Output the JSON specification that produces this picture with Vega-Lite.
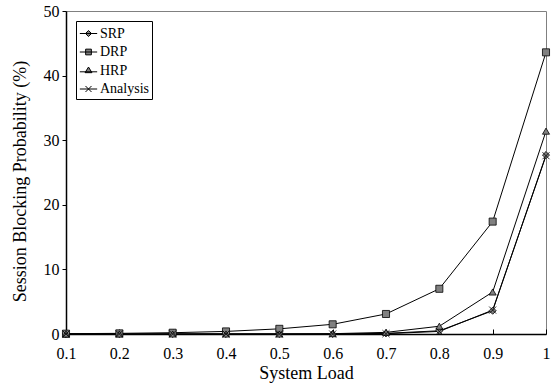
{
  "$schema": "https://vega.github.io/schema/vega-lite/v6.json",
  "width": 480,
  "height": 323,
  "autosize": "none",
  "padding": {"left": 66, "top": 11, "right": 7, "bottom": 57},
  "config": {
    "view": {"stroke": "#808080", "strokeWidth": 1},
    "font": "Liberation Serif",
    "axis": {"labelFont": "Liberation Serif", "titleFont": "Liberation Serif", "labelFontSize": 16, "titleFontSize": 18, "titleFontWeight": "normal", "labelColor": "black", "titleColor": "black", "domainColor": "black", "tickColor": "black", "grid": false, "domainWidth": 1.5}
  },
  "data": {"values": [
    {"series": "SRP", "load": 0.1, "p": 0}, {"series": "SRP", "load": 0.2, "p": 0}, {"series": "SRP", "load": 0.3, "p": 0}, {"series": "SRP", "load": 0.4, "p": 0}, {"series": "SRP", "load": 0.5, "p": 0}, {"series": "SRP", "load": 0.6, "p": 0}, {"series": "SRP", "load": 0.7, "p": 0.1}, {"series": "SRP", "load": 0.8, "p": 0.5}, {"series": "SRP", "load": 0.9, "p": 3.6}, {"series": "SRP", "load": 1.0, "p": 27.7},
    {"series": "DRP", "load": 0.1, "p": 0.05}, {"series": "DRP", "load": 0.2, "p": 0.1}, {"series": "DRP", "load": 0.3, "p": 0.2}, {"series": "DRP", "load": 0.4, "p": 0.4}, {"series": "DRP", "load": 0.5, "p": 0.8}, {"series": "DRP", "load": 0.6, "p": 1.5}, {"series": "DRP", "load": 0.7, "p": 3.1}, {"series": "DRP", "load": 0.8, "p": 7.0}, {"series": "DRP", "load": 0.9, "p": 17.4}, {"series": "DRP", "load": 1.0, "p": 43.6},
    {"series": "HRP", "load": 0.1, "p": 0}, {"series": "HRP", "load": 0.2, "p": 0}, {"series": "HRP", "load": 0.3, "p": 0}, {"series": "HRP", "load": 0.4, "p": 0}, {"series": "HRP", "load": 0.5, "p": 0}, {"series": "HRP", "load": 0.6, "p": 0.05}, {"series": "HRP", "load": 0.7, "p": 0.25}, {"series": "HRP", "load": 0.8, "p": 1.2}, {"series": "HRP", "load": 0.9, "p": 6.5}, {"series": "HRP", "load": 1.0, "p": 31.4},
    {"series": "Analysis", "load": 0.1, "p": 0}, {"series": "Analysis", "load": 0.2, "p": 0}, {"series": "Analysis", "load": 0.3, "p": 0}, {"series": "Analysis", "load": 0.4, "p": 0}, {"series": "Analysis", "load": 0.5, "p": 0}, {"series": "Analysis", "load": 0.6, "p": 0}, {"series": "Analysis", "load": 0.7, "p": 0.05}, {"series": "Analysis", "load": 0.8, "p": 0.4}, {"series": "Analysis", "load": 0.9, "p": 3.7}, {"series": "Analysis", "load": 1.0, "p": 27.6}
  ]},
  "encoding": {
    "x": {"field": "load", "type": "quantitative", "title": "System Load",
      "scale": {"domain": [0.1, 1], "nice": false, "zero": false},
      "axis": {"values": [0.1, 0.2, 0.3, 0.4, 0.5, 0.6, 0.7, 0.8, 0.9, 1], "format": ".1~f", "tickSize": -5, "labelPadding": 16, "titlePadding": 3, "labelFlush": false}},
    "y": {"field": "p", "type": "quantitative", "title": "Session Blocking Probability (%)",
      "scale": {"domain": [0, 50], "nice": false},
      "axis": {"values": [0, 10, 20, 30, 40, 50], "tickSize": 4, "labelPadding": 3, "titlePadding": 14, "titleY": 170}}
  },
  "resolve": {"scale": {"shape": "independent"}, "legend": {"shape": "independent"}},
  "layer": [
    {
      "mark": {"type": "line", "color": "black", "strokeWidth": 1},
      "encoding": {"detail": {"field": "series"}}
    },
    {
      "mark": {"type": "point", "filled": true, "fill": "#808080", "stroke": "black", "strokeWidth": 0.8, "size": 50, "opacity": 1},
      "encoding": {
        "shape": {"field": "series", "type": "nominal",
          "scale": {"domain": ["SRP", "DRP", "HRP", "Analysis"], "range": ["M0,-1L1,0L0,1L-1,0Z", "square", "triangle-up", "M-1,-1L1,1M-1,1L1,-1"]},
          "legend": null}
      }
    },
    {
      "transform": [{"filter": "datum.p < 0"}],
      "mark": {"type": "point", "filled": false, "fill": "#808080", "stroke": "black", "strokeWidth": 1, "size": 300, "opacity": 1},
      "encoding": {
        "shape": {"field": "series", "type": "nominal",
          "scale": {"domain": ["SRP", "DRP", "HRP", "Analysis"], "range": ["M-1,0H1M-0.35,0L0,-0.35L0.35,0L0,0.35Z", "M-1,0H1M-0.33,-0.33H0.33V0.33H-0.33Z", "M-1,0.15H1M-0.4,0.25L0,-0.4L0.4,0.25Z", "M-1,0H1M-0.35,-0.35L0.35,0.35M-0.35,0.35L0.35,-0.35"]},
          "legend": {
            "title": null, "orient": "top-left", "offset": 10,
            "strokeColor": "black", "padding": 3,
            "labelFont": "Liberation Serif", "labelFontSize": 14, "labelColor": "black",
            "symbolSize": 300, "symbolStrokeWidth": 1,
            "rowPadding": 1.5, "labelOffset": 2,
            "encode": {"symbols": {"update": {"stroke": {"value": "black"}, "strokeWidth": {"value": 1}, "fill": {"value": "#808080"}, "opacity": {"value": 1}}}}
          }}
      }
    }
  ]
}
